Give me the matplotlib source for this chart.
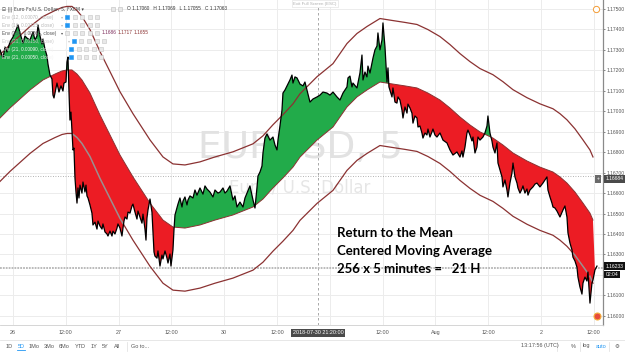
import numpy as np
import matplotlib
matplotlib.use('Agg')
import matplotlib.pyplot as plt
from matplotlib.lines import Line2D

# час у годинах від 26.07 00:00 (торговий час, вихідні прибрано)
hours = [-2.95, -2.27, -1.82, -1.36, -0.68, 0.0, 0.68, 1.14, 1.59, 2.27, 2.73, 3.18, 3.86, 4.55, 5.0,
         5.45, 5.68, 6.14, 6.59, 6.82, 7.27, 7.73, 7.95, 8.41, 8.86, 9.09, 9.32, 9.77, 10.0, 10.45,
         10.91, 11.36, 11.59, 12.05, 12.27, 12.5, 12.73, 12.95, 13.18, 13.41, 13.64, 13.86, 14.09,
         14.32, 14.55, 14.77, 15.0, 15.23, 15.68, 15.91, 16.36, 16.59, 16.82, 17.05, 17.5, 17.95,
         18.18, 18.64, 19.09, 19.32, 19.77, 20.23, 20.45, 20.91, 21.36, 21.59, 22.05, 22.5, 22.73,
         23.18, 23.64, 23.86, 24.32, 24.77, 25.0, 25.23, 25.45, 25.91, 26.14, 26.59, 27.05, 27.27,
         27.73, 28.18, 28.41, 28.86, 29.32, 29.55, 30.0, 30.23, 30.45, 30.68, 31.14, 31.59, 31.82,
         32.05, 32.27, 32.73, 32.95, 33.41, 33.86, 34.09, 34.55, 35.0, 35.23, 35.68, 35.91, 36.14,
         36.36, 36.59, 36.82, 37.27, 37.5, 37.95, 38.41, 38.64, 39.09, 39.55, 39.77, 40.23, 40.91,
         41.36, 41.82, 42.5, 43.18, 43.64, 44.09, 44.77, 45.45, 45.91, 46.59, 47.05, 47.73, 48.18,
         48.64, 49.32, 50.0, 50.45, 50.91, 51.59, 52.27, 52.73, 53.18, 53.86, 54.55, 55.0, 55.45,
         55.68, 56.14, 56.59, 56.82, 57.27, 57.73, 58.41, 59.09, 59.55, 60.0, 60.23, 60.68, 61.14,
         61.36, 61.82, 62.27, 62.95, 63.41, 63.64, 64.09, 64.55, 65.23, 65.91, 66.36, 66.82, 67.5,
         68.18, 69.09, 69.77, 70.45, 71.36, 72.05, 72.73, 73.64, 74.32, 75.0, 75.91, 76.14, 76.59,
         77.05, 77.27, 78.18, 78.86, 79.32, 79.55, 80.0, 80.45, 80.68, 81.14, 81.59, 81.82, 82.27,
         82.73, 82.95, 83.41, 83.86, 84.09, 84.55, 85.0, 85.23, 85.45, 86.14, 86.36, 86.82, 87.27,
         87.5, 87.95, 88.41, 88.64, 89.09, 89.55, 89.77, 90.23, 90.68, 90.91, 91.36, 91.82, 92.05,
         92.5, 92.95, 93.18, 93.64, 94.09, 94.32, 94.77, 95.23, 95.45, 95.91, 96.36, 97.05, 97.73,
         98.64, 99.32, 100.0, 100.91, 101.59, 102.05, 102.27, 102.73, 103.18, 103.41, 103.86,
         104.32, 104.55, 105.0, 105.45, 105.68, 106.14, 106.82, 107.27, 107.73, 107.95, 108.41,
         108.86, 109.09, 109.55, 110.0, 110.23, 110.68, 111.14, 111.36, 111.82, 112.27, 112.5,
         112.95, 113.41, 113.64, 114.09, 114.55, 114.77, 115.23, 115.68, 115.91, 116.36, 116.82,
         117.05, 117.5, 118.18, 118.64, 119.09, 119.77, 120.45, 120.91, 121.36, 121.59, 122.05,
         122.5, 122.73, 123.18, 123.64, 124.32, 125.0, 125.45, 125.91, 126.14, 126.59, 127.05,
         127.27, 127.73, 128.18, 128.41, 128.86, 129.32, 129.55, 130.0, 130.45, 130.68, 131.14,
         131.59, 131.82, 132.27, 132.73]

close = [1.17300, 1.17260, 1.17314, 1.17290, 1.17339, 1.17363, 1.17397, 1.17422, 1.17383, 1.17334,
         1.17368, 1.17358, 1.17348, 1.17388, 1.17348, 1.17368, 1.17422, 1.17368, 1.17329, 1.17353,
         1.17304, 1.17270, 1.17231, 1.17177, 1.17158, 1.17079, 1.17065, 1.17114, 1.17138, 1.17094,
         1.17124, 1.17099, 1.17138, 1.17143, 1.17241, 1.17265, 1.17094, 1.16957, 1.16996, 1.16899,
         1.16811, 1.16820, 1.16674, 1.16605, 1.16551, 1.16625, 1.16576, 1.16639, 1.16600, 1.16654,
         1.16605, 1.16639, 1.16586, 1.16576, 1.16542, 1.16502, 1.16444, 1.16458, 1.16424, 1.16463,
         1.16439, 1.16424, 1.16449, 1.16410, 1.16400, 1.16390, 1.16414, 1.16390, 1.16414, 1.16400,
         1.16429, 1.16449, 1.16429, 1.16390, 1.16429, 1.16463, 1.16483, 1.16473, 1.16507, 1.16502,
         1.16537, 1.16546, 1.16507, 1.16473, 1.16512, 1.16483, 1.16453, 1.16497, 1.16424, 1.16370,
         1.16478, 1.16517, 1.16571, 1.16507, 1.16410, 1.16312, 1.16292, 1.16282, 1.16317, 1.16243,
         1.16297, 1.16278, 1.16317, 1.16282, 1.16258, 1.16302, 1.16243, 1.16282, 1.16322, 1.16419,
         1.16493, 1.16527, 1.16546, 1.16576, 1.16532, 1.16561, 1.16581, 1.16542, 1.16566, 1.16586,
         1.16576, 1.16615, 1.16590, 1.16625, 1.16595, 1.16635, 1.16620, 1.16605, 1.16581, 1.16615,
         1.16600, 1.16605, 1.16625, 1.16600, 1.16610, 1.16635, 1.16566, 1.16586, 1.16532, 1.16556,
         1.16532, 1.16576, 1.16600, 1.16635, 1.16566, 1.16527, 1.16625, 1.16683, 1.16703, 1.16732,
         1.16796, 1.16869, 1.16889, 1.16859, 1.16874, 1.16835, 1.16811, 1.16859, 1.16928, 1.17006,
         1.17089, 1.17104, 1.17124, 1.17153, 1.17177, 1.17138, 1.17168, 1.17163, 1.17133, 1.17124,
         1.17143, 1.17104, 1.17045, 1.17060, 1.17070, 1.17079, 1.17094, 1.17089, 1.17079, 1.17094,
         1.17070, 1.17055, 1.17089, 1.17119, 1.17163, 1.17172, 1.17119, 1.17138, 1.17114, 1.17187,
         1.17275, 1.17153, 1.17192, 1.17168, 1.17221, 1.17187, 1.17236, 1.17260, 1.17300, 1.17319,
         1.17383, 1.17300, 1.17348, 1.17432, 1.17314, 1.17143, 1.17212, 1.17119, 1.17070, 1.17114,
         1.17045, 1.17040, 1.17070, 1.17055, 1.17006, 1.16967, 1.17021, 1.16991, 1.17035, 1.17016,
         1.16991, 1.16942, 1.16977, 1.16967, 1.16923, 1.16928, 1.16894, 1.16869, 1.16894, 1.16884,
         1.16913, 1.16874, 1.16899, 1.16913, 1.16884, 1.16874, 1.16894, 1.16859, 1.16845, 1.16811,
         1.16786, 1.16801, 1.16776, 1.16806, 1.16776, 1.16825, 1.16894, 1.16908, 1.16884, 1.16855,
         1.16874, 1.16796, 1.16825, 1.16874, 1.16859, 1.16874, 1.16894, 1.16928, 1.16977, 1.16894,
         1.16855, 1.16825, 1.16796, 1.16845, 1.16747, 1.16713, 1.16679, 1.16630, 1.16664, 1.16615,
         1.16581, 1.16649, 1.16698, 1.16747, 1.16679, 1.16649, 1.16625, 1.16600, 1.16620, 1.16635,
         1.16600, 1.16620, 1.16590, 1.16615, 1.16630, 1.16644, 1.16649, 1.16630, 1.16649, 1.16664,
         1.16679, 1.16615, 1.16581, 1.16551, 1.16532, 1.16527, 1.16512, 1.16483, 1.16517, 1.16537,
         1.16483, 1.16405, 1.16356, 1.16322, 1.16287, 1.16268, 1.16238, 1.16189, 1.16141, 1.16106,
         1.16160, 1.16189, 1.16170, 1.16214, 1.16062, 1.16160, 1.16175, 1.16224, 1.16243]

# центрована ковзна середня (256 x 5 хв)
ma_hours = [-2.95, -0.68, 1.59, 3.86, 6.82, 9.55, 11.14, 12.27, 13.41, 14.55, 15.68, 17.5, 19.77,
            22.05, 24.32, 27.27, 31.14, 34.09, 36.36, 39.09, 42.5, 45.91, 50.0, 54.55, 56.82,
            59.09, 61.36, 63.64, 65.23, 69.09, 72.73, 75.91, 78.18, 80.45, 83.41, 86.36, 89.09,
            91.82, 94.32, 97.05, 99.32, 101.59, 103.86, 106.14, 109.09, 111.36, 113.64, 116.82,
            119.77, 122.73, 124.32, 125.91, 127.73, 129.55, 131.14, 131.82]
ma_close = [1.16967, 1.17016, 1.17060, 1.17104, 1.17153, 1.17182, 1.17197, 1.17202, 1.17202,
            1.17182, 1.17153, 1.17089, 1.16982, 1.16884, 1.16786, 1.16679, 1.16551, 1.16468,
            1.16434, 1.16429, 1.16444, 1.16468, 1.16493, 1.16532, 1.16571, 1.16625, 1.16674,
            1.16727, 1.16776, 1.16859, 1.16923, 1.17021, 1.17070, 1.17104, 1.17143, 1.17133,
            1.17124, 1.17114, 1.17089, 1.17055, 1.17016, 1.16972, 1.16933, 1.16899, 1.16869,
            1.16835, 1.16796, 1.16757, 1.16727, 1.16703, 1.16679, 1.16649, 1.16605, 1.16551,
            1.16502, 1.16468]
env_pct = 0.00265

tick_hours = [0, 12, 24, 36, 48, 60, 72, 84, 96, 108, 120, 132]
# мітка "31" у зразку закрита плашкою перехрестя
tick_names = ['26', '12:00', '27', '12:00', '30', '12:00', '', '12:00', 'Aug', '12:00', '2', '12:00']
price_ticks = [1.160, 1.161, 1.162, 1.163, 1.164, 1.165, 1.166, 1.167, 1.168, 1.169, 1.170,
               1.171, 1.172, 1.173, 1.174, 1.175]

cross_hour = 69.33
cross_price = 1.16684
last_price = 1.16233

W, H = 625, 355
fig = plt.figure(figsize=(W / 100, H / 100), dpi=100)
ax = fig.add_axes([0, 30 / H, 603 / W, 325 / H])
UI = 'Liberation Sans'


def ft(x, y, s, **kw):
    kw.setdefault('family', UI)
    return fig.text(x / W, 1 - y / H, s, **kw)


def mark(x, y, **kw):
    fig.add_artist(Line2D([x / W], [1 - y / H], transform=fig.transFigure, **kw))


t = np.array(hours)
c = np.array(close)
mt = np.array(ma_hours)
m = np.array(ma_close)
mi = np.interp(t, mt, m)
inside = t <= mt[-1]

dark = '#8b3232'
ax.fill_between(t, c, mi, where=inside & (c >= mi), interpolate=True, color='#22ab4a', lw=0, zorder=2)
ax.fill_between(t, c, mi, where=inside & (c < mi), interpolate=True, color='#ec1c24', lw=0, zorder=2)
ax.plot(mt, m * (1 + env_pct), color=dark, lw=0.9, zorder=3)
ax.plot(mt, m * (1 - env_pct), color=dark, lw=0.9, zorder=1.5)
lo = mi * (1 - env_pct)
ax.plot(t, np.where(inside & (lo > c), lo, np.nan), color='#9a9090', lw=1.1, zorder=3)
ax.plot(mt, m, color=dark, lw=0.7, zorder=3)
ax.plot(t, c, color='black', lw=0.9, zorder=4)

ax.axvline(cross_hour, color='#9a9a9a', lw=0.6, ls=(0, (3, 3)), zorder=1)
ax.axhline(cross_price, color='#9a9a9a', lw=0.6, ls=(0, (1, 2)), zorder=1)
ax.axhline(last_price, color='#b5b5b5', lw=1.3, ls=(0, (1, 0.6)), zorder=1)

ax.set_xlim(-2.95, 134.1)
ax.set_ylim(1.15955, 1.17544)
ax.set_xticks(tick_hours)
ax.set_xticklabels(tick_names, family=UI)
ax.set_yticks(price_ticks)
# 1.16200 у зразку сховано під плашкою останньої ціни
ax.set_yticklabels(['' if abs(v - 1.162) < 1e-9 else '%.5f' % v for v in price_ticks], family=UI)
ax.yaxis.tick_right()
ax.tick_params(axis='y', labelsize=3.6, colors='#555555', length=1.5, width=0.5, pad=1)
ax.tick_params(axis='x', labelsize=3.9, colors='#555555', length=0, pad=3.5)
ax.grid(True, color='#ececec', lw=0.7)
ax.set_axisbelow(True)
for s in ['top', 'left']:
    ax.spines[s].set_visible(False)
ax.spines['right'].set_color('#8a8a8a')
ax.spines['right'].set_linewidth(0.9)
ax.spines['bottom'].set_color('#cfcfcf')
ax.spines['bottom'].set_linewidth(0.6)

# водяний знак
ax.text(300 / W, 1 - 148 / H, 'EURUSD, 5', transform=fig.transFigure, ha='center', va='center',
        fontsize=27, color='#e2e2e2', zorder=0.6)
ax.text(300 / W, 1 - 187 / H, 'Euro / U.S. Dollar', transform=fig.transFigure, ha='center',
        va='center', fontsize=12, color='#e6e6e6', zorder=0.6)

# підпис
note = ['Return to the Mean', 'Centered Moving Average', '256 x 5 minutes =   21 H']
for i, s in enumerate(note):
    ft(337, 233 + 18 * i, s, family='Lato', weight='bold', fontsize=9.5, va='center', color='black')

# легенда зверху зліва
small = dict(fontsize=3.4, va='center')
ft(2, 9, '⊟ ||| Euro Fx/U.S. Dollar, 5, FXCM ▾', color='#444444', family='DejaVu Sans', **small)
mark(113, 9, marker='s', ms=3.2, mfc='#e8e8e8', mec='#bdbdbd', mew=0.4)
mark(120, 9, marker='s', ms=3.2, mfc='#e8e8e8', mec='#bdbdbd', mew=0.4)
ft(127, 9, 'O 1.17060   H 1.17069   L 1.17055   C 1.17063', color='#333333', **small)
rows = [(17, 'Env (12, 0.00070, close)', '#b8b8b8', 67, True),
        (25, 'Env (16, 0.00125, close)', '#b8b8b8', 67, True),
        (33, 'Env (256, 0.00265, close)', '#555555', 67, False),
        (41, 'Env (21, 0.00150, close)', '#c8c8c8', 74, True),
        (49, 'Env (21, 0.00090, close)', '#f4f4f4', 71, True),
        (57, 'Env (21, 0.00050, close)', '#f4f4f4', 71, True)]
for y, s, col, xi, blue in rows:
    ft(2, y, s, color=col, **small)
    ft(xi - 4.5, y, '▾', color=col, family='DejaVu Sans', fontsize=3.0, va='center', ha='center')
    for k in range(5):
        fc = '#2196f3' if (blue and k == 0) else '#e8e8e8'
        mark(xi + 7.5 * k, y, marker='s', ms=3.0, mfc=fc, mec='#c4c4c4' if fc != '#2196f3' else fc, mew=0.4)
ft(102, 33, '1.1686', color='#7b2a5a', **small)
ft(118, 33, '1.1717', color='#8b3232', **small)
ft(134, 33, '1.1655', color='#8b3232', **small)
ft(315, 3.5, 'Exit Full Screen (ESC)', fontsize=3.2, color='#b0b0b0', ha='center', va='center',
   bbox=dict(boxstyle='square,pad=0.3', fc='white', ec='#dddddd', lw=0.4))

# мітки на осях
box = dict(boxstyle='square,pad=0.25', lw=0)
ft(605.5, 179, '1.16684', fontsize=3.6, color='white', va='center', bbox=dict(fc='#4a4a4a', **box))
ft(598, 179, '+', fontsize=3.6, color='white', ha='center', va='center', bbox=dict(fc='#6a6a6a', **box))
ft(605.5, 266, '1.16233', fontsize=3.6, color='white', va='center', bbox=dict(fc='#111111', **box))
ft(605.5, 274.5, '02:04', fontsize=3.6, color='white', va='center', bbox=dict(fc='#111111', **box))
ft(318, 333, '2018-07-30 21:20:00', fontsize=3.9, color='white', ha='center', va='center',
   bbox=dict(fc='#4a4a4a', **box))
mark(596, 9, marker='o', ms=4.5, mfc='white', mec='#f39c35', mew=0.7)
mark(597, 316, marker='o', ms=5, mfc='#e74c3c', mec='#f3b03c', mew=0.8)

# нижня панель
fig.add_artist(Line2D([0, 1], [1 - 340 / H] * 2, transform=fig.transFigure, color='#e3e3e3', lw=0.6))
bar = dict(fontsize=4.0, va='center', ha='center', color='#555555')
for x, s in [(9, '1D'), (34, '1Mo'), (49, '3Mo'), (64, '6Mo'), (80, 'YTD'), (94, '1Y'),
             (105, '5Y'), (117, 'All'), (140, 'Go to...'), (540, '13:17:56 (UTC)'),
             (573, '%'), (586, 'log')]:
    ft(x, 346, s, **bar)
ft(617, 346, '⚙', family='DejaVu Sans', **bar)
ft(21, 346, '5D', fontsize=4.0, va='center', ha='center', color='#2196f3')
fig.add_artist(Line2D([17 / W, 25 / W], [1 - 350 / H] * 2, transform=fig.transFigure, color='#2196f3', lw=0.6))
ft(601, 346, 'auto', fontsize=4.0, va='center', ha='center', color='#2196f3')
for x in [127, 557, 580, 609]:
    fig.add_artist(Line2D([x / W] * 2, [1 - 342 / H, 1 - 351 / H], transform=fig.transFigure,
                          color='#dddddd', lw=0.5))

fig.savefig('out.png', dpi=100)
